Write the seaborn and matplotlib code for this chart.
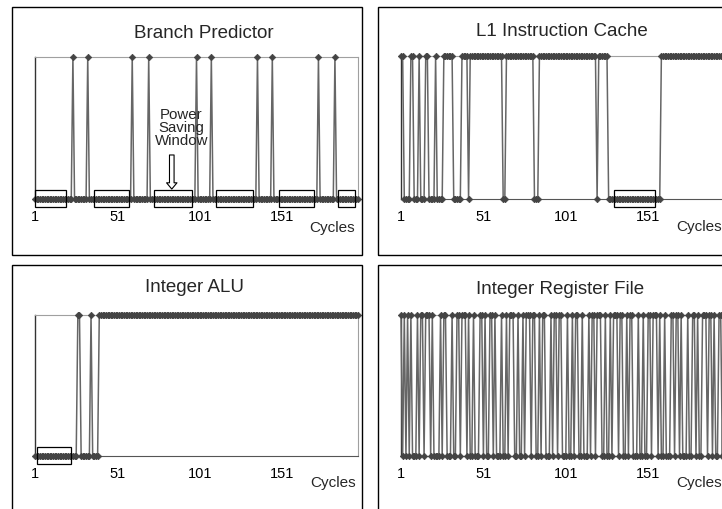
import matplotlib
matplotlib.use("Agg")
import matplotlib.pyplot as plt
import seaborn as sns
from matplotlib.patches import Rectangle

# ---------------- data ----------------
n_cycles = 197
cycles = list(range(1, n_cycles + 1))
tick_labels = ["1", "51", "101", "151"]
tick_cycles = [1, 51, 101, 151]

panel_titles = ["Branch Predictor", "L1 Instruction Cache",
                "Integer ALU", "Integer Register File"]

# Branch predictor: cycles where the unit is active (1), otherwise 0
bp_active_cycles = [24, 33, 60, 70, 99, 108, 136, 145, 173, 183]

# Run-length encoded activity (alternating states, starting with *_first_state)
l1_first_state = 1
l1_runs = [2, 4, 2, 3, 1, 3, 2, 4, 1, 4, 6, 5, 4, 1, 20, 2, 17, 3, 35, 1, 6, 32, 39]

alu_first_state = 0
alu_runs = [26, 2, 6, 1, 4, 158]

rf_first_state = 1
rf_runs = [1, 1, 1, 1, 1, 1, 1, 3, 1, 1,
           2, 1, 3, 1, 1, 4, 1, 1, 2, 3,
           1, 2, 2, 1, 3, 1, 1, 2, 1, 3,
           2, 1, 1, 2, 2, 1, 1, 3, 1, 2,
           1, 1, 3, 2, 1, 2, 1, 1, 3, 1,
           2, 2, 1, 1, 2, 3, 1, 1, 2, 1,
           2, 3, 1, 2, 1, 1, 2, 2, 1, 3,
           1, 1, 2, 1, 3, 2, 1, 2, 1, 1,
           3, 1, 2, 2, 1, 1, 2, 3, 1, 2,
           1, 2, 2, 1, 3, 1, 1, 2, 1, 3,
           2, 1, 2, 1, 1, 3, 1, 2, 2, 1,
           1, 2, 3, 1, 2, 1, 1, 2, 2, 1,
           1]

# Power saving windows (start cycle, end cycle)
bp_windows = [(1, 20), (37, 58), (73, 96), (111, 133), (149, 170), (185, 195)]
l1_windows = [(130, 155)]
alu_windows = [(2, 23)]
rf_windows = []


def expand(first, runs):
    states, s = [], first
    for r in runs:
        states += [s] * r
        s = 1 - s
    return states


bp_states = [1 if c in bp_active_cycles else 0 for c in cycles]
l1_states = expand(l1_first_state, l1_runs)
alu_states = expand(alu_first_state, alu_runs)
rf_states = expand(rf_first_state, rf_runs)

# ---------------- figure ----------------
W, H = 722, 510
sns.set_style("white")
plt.rcParams["font.family"] = ["Liberation Sans", "DejaVu Sans"]

fig = plt.figure(figsize=(W / 100, H / 100), dpi=100)
fig.patch.set_facecolor("white")


def px_axes(left, top, right, bottom):
    return fig.add_axes([left / W, 1 - bottom / H, (right - left) / W, (bottom - top) / H])


def px_box(left, top, right, bottom):
    fig.add_artist(Rectangle((left / W, 1 - bottom / H), (right - left) / W, (bottom - top) / H,
                             transform=fig.transFigure, fill=False, ec="black", lw=1.0))


panels = [
    dict(rect=(35, 58, 358, 200), box=(12, 8, 362, 256), states=bp_states, windows=bp_windows,
         title=(204, 33), cyc=(332, 228, "center")),
    dict(rect=(401, 57, 724, 200), box=(378, 8, 745, 256), states=l1_states, windows=l1_windows,
         title=(562, 32), cyc=(676, 227, "left")),
    dict(rect=(35, 316, 358, 457), box=(12, 266, 362, 530), states=alu_states, windows=alu_windows,
         title=(195, 288), cyc=(333, 483, "center")),
    dict(rect=(401, 316, 724, 457), box=(378, 266, 745, 530), states=rf_states, windows=rf_windows,
         title=(560, 290), cyc=(676, 483, "left")),
]

axes = []
for p, title in zip(panels, panel_titles):
    px_box(*p["box"])
    ax = px_axes(*p["rect"])
    axes.append(ax)
    ax.set_facecolor("white")
    sns.lineplot(x=cycles, y=p["states"], ax=ax, estimator=None, color="#666666", lw=1.1,
                 marker="D", markersize=3.3, markerfacecolor="#444444",
                 markeredgecolor="#444444", markeredgewidth=0.5, clip_on=False, zorder=3)
    ax.set_xlim(1, n_cycles)
    ax.set_ylim(0, 1)
    ax.set_xlabel("")
    ax.set_ylabel("")
    ax.set_yticks([])
    ax.set_xticks(tick_cycles)
    ax.set_xticklabels(tick_labels, fontsize=10.5)
    ax.set_xticks(cycles, minor=True)
    ax.tick_params(axis="x", which="both", length=2.5, width=0.6, color="#444444",
                   direction="out", pad=5, labelcolor="black")
    ax.spines["left"].set_color("#333333")
    ax.spines["left"].set_linewidth(1.0)
    for s in ("top", "right"):
        ax.spines[s].set_color("#a0a0a0")
        ax.spines[s].set_linewidth(0.8)
    ax.spines["bottom"].set_color("#555555")
    ax.spines["bottom"].set_linewidth(0.8)

    for (a, b) in p["windows"]:
        ax.add_patch(Rectangle((a, -0.056), b - a, 0.12, fill=False, ec="black",
                               lw=0.9, clip_on=False, zorder=5))

    tx, ty = p["title"]
    fig.text(tx / W, 1 - ty / H, title, ha="center", va="center", fontsize=13.5)
    cx, cy, ha = p["cyc"]
    fig.text(cx / W, 1 - cy / H, "Cycles", ha=ha, va="center", fontsize=11)

# Annotation in Branch Predictor panel
ax0 = axes[0]
ax0.text(89.8, 0.507, "Power\nSaving\nWindow", ha="center", va="center",
         fontsize=10.8, linespacing=0.88, zorder=6)
ax0.annotate("", xy=(84, 0.07), xytext=(84, 0.31),
             arrowprops=dict(arrowstyle="simple,head_width=0.75,head_length=0.45,tail_width=0.33",
                             fc="white", ec="black", lw=0.8, mutation_scale=10,
                             shrinkA=0, shrinkB=0), zorder=6)

fig.savefig("out.png", dpi=100, facecolor="white")
